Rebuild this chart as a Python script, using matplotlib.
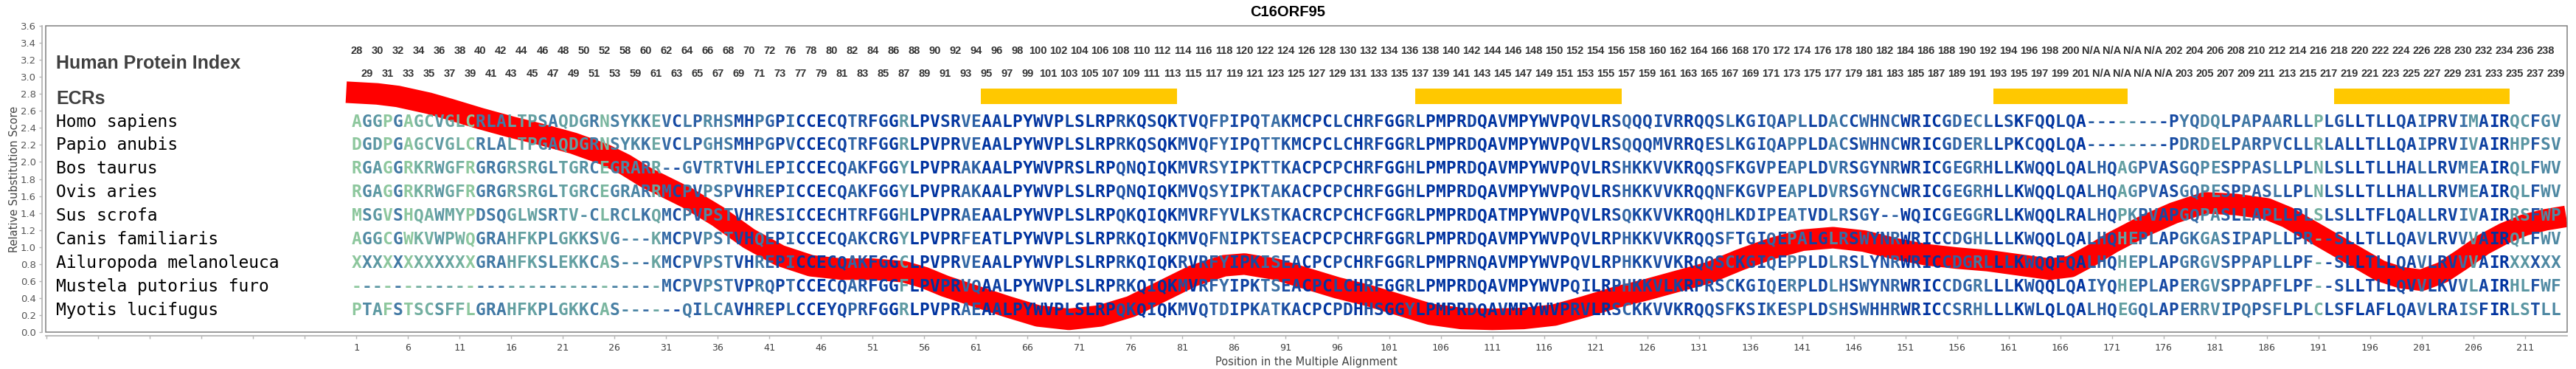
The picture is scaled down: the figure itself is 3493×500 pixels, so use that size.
import math
from collections import Counter

import matplotlib
matplotlib.use("Agg")
import matplotlib.pyplot as plt
from matplotlib.colors import LinearSegmentedColormap, Normalize
from matplotlib.patches import Rectangle

title = "C16ORF95"

species = ["Homo sapiens", "Papio anubis", "Bos taurus", "Ovis aries", "Sus scrofa",
           "Canis familiaris", "Ailuropoda melanoleuca", "Mustela putorius furo",
           "Myotis lucifugus"]

# alignment columns 1..214, split in chunks
seqs = [
    "AGGPGAGCVGLCRLALTPSAQDGRNSYKKEV" "CLPRHSMHPGPICCECQTRFGGRLPVSRVEAALPYW"
    "VPLSLRPRKQSQKTVQFPIPQTAKMCPCLCHRFGGRL" "PMPRDQAVMPYWVPQVLRSQQQIVRRQQSLKGIQAPLLDAC"
    "CWHNCWRICGDECLLSKFQQLQA--------PYQD" "QLPAPAARLLPLGLLTLLQAIPRVIMAIRQCFGV",
    "DGDPGAGCVGLCRLALTPGAQDGRNSYKKEV" "CLPGHSMHPGPVCCECQTRFGGRLPVPRVEAALPYW"
    "VPLSLRPRKQSQKMVQFYIPQTTKMCPCLCHRFGGRL" "PMPRDQAVMPYWVPQVLRSQQQMVRRQESLKGIQAPPLDAC"
    "SWHNCWRICGDERLLPKCQQLQA--------PDRD" "ELPARPVCLLRLALLTLLQAIPRVIVAIRHPFSV",
    "RGAGGRKRWGFRGRGRSRGLTGRCEGRARR-" "-GVTRTVHLEPICCECQAKFGGYLPVPRAKAALPYW"
    "VPRSLRPQNQIQKMVRSYIPKTTKACPCPCHRFGGHL" "PMPRDQAVMPYWVPQVLRSHKKVVKRQQSFKGVPEAPLDVR"
    "SGYNRWRICGEGRHLLKWQQLQALHQAGPVASGQP" "ESPPASLLPLNLSLLTLLHALLRVMEAIRQLFWV",
    "RGAGGRKRWGFRGRGRSRGLTGRCEGRARRM" "CPVPSPVHREPICCECQAKFGGYLPVPRAKAALPYW"
    "VPLSLRPQNQIQKMVQSYIPKTAKACPCPCHRFGGHL" "PMPRDQAVMPYWVPQVLRSHKKVVKRQQNFKGVPEAPLDVR"
    "SGYNCWRICGEGRHLLKWQQLQALHQAGPVASGQP" "ESPPASLLPLNLSLLTLLHALLRVMEAIRQLFWV",
    "MSGVSHQAWMYPDSQGLWSRTV-CLRCLKQM" "CPVPSTVHRESICCECHTRFGGHLPVPRAEAALPYW"
    "VPLSLRPQKQIQKMVRFYVLKSTKACRCPCHCFGGRL" "PMPRDQATMPYWVPQVLRSQKKVVKRQQHLKDIPEATVDLR"
    "SGY--WQICGEGGRLLKWQQLRALHQPKPVAPGQP" "ASLLAPLLPLSLSLLTFLQALLRVIVAIRRSFWP",
    "AGGCGWKVWPWQGRAHFKPLGKKSVG---KM" "CPVPSTVHQEPICCECQAKCRGYLPVPRFEATLPYW"
    "VPLSLRPRKQIQKMVQFNIPKTSEACPCPCHRFGGRL" "PMPRDQAVMPYWVPQVLRPHKKVVKRQQSFTGIQEPALGLR"
    "SWYNRWRICCDGHLLLKWQQLQALHQHEPLAPGKG" "ASIPAPLLPR--SLLTLLQAVLRVVVAIRQLFWV",
    "XXXXXXXXXXXXGRAHFKSLEKKCAS---KM" "CPVPSTVHREPICCECQAKFGGCLPVPRVEAALPYW"
    "VPLSLRPRKQIQKRVRFYIPKISEACPCPCHRFGGRL" "PMPRNQAVMPYWVPQVLRPHKKVVKRQQSCKGIQEPPLDLR"
    "SLYNRWRICCDGRLLLKWQQFQALHQHEPLAPGRG" "VSPPAPLLPF--SLLTLLQAVLRVVVAIRXXXXX",
    "------------------------------M" "CPVPSTVPRQPTCCECQARFGGFLPVPRVQAALPYW"
    "VPLSLRPRKQIQKMVRFYIPKTSEACPCLCHRFGGRL" "PMPRDQAVMPYWVPQILRPHKKVLKRPRSCKGIQERPLDLH"
    "SWYNRWRICCDGRLLLKWQQLQAIYQHEPLAPERG" "VSPPAPFLPF--SLLTLLQVVLKVVLAIRHLFWF",
    "PTAFSTSCSFFLGRAHFKPLGKKCAS------" "QILCAVHREPLCCEYQPRFGGRLPVPRAEAALPYW"
    "VPLSLRPQKQIQKMVQTDIPKATKACPCPDHHSGGYL" "PMPRDQAVMPYWVPRVLRSCKKVVKRQQSFKSIKESPLDSH"
    "SWHHRWRICCSRHLLLKWLQLQALHQEGQLAPERR" "VIPQPSFLPLCLSFLAFLQAVLRAISFIRLSTLL",
]

human_index = ([str(i) for i in range(28, 54)] + [str(i) for i in range(58, 74)]
               + [str(i) for i in range(76, 202)] + ["N/A"] * 8
               + [str(i) for i in range(202, 240)])

ecr_start = [62, 104, 160, 193]
ecr_end = [80, 123, 172, 209]

# relative substitution score along the alignment
score_pos = [0, 3, 5, 8, 10, 13, 16, 19, 22, 25, 27, 29, 31, 33, 36, 39, 42, 45, 48, 51,
             54, 56, 58, 61, 64, 67, 70, 73, 76, 79, 82, 85, 87, 90, 93, 96, 99, 102, 105,
             108, 111, 114, 117, 120, 123, 126, 129, 132, 135, 138, 141, 144, 147, 150,
             153, 156, 159, 162, 165, 167, 169, 171, 174, 177, 180, 183, 186, 188, 190,
             192, 194, 197, 199, 201, 203, 205, 207, 209, 211, 213, 215]
score_val = [2.82, 2.80, 2.77, 2.69, 2.62, 2.51, 2.41, 2.32, 2.22, 2.09, 1.97, 1.82, 1.70,
             1.58, 1.36, 1.10, 0.90, 0.78, 0.74, 0.74, 0.71, 0.64, 0.54, 0.42, 0.30, 0.19,
             0.15, 0.19, 0.30, 0.48, 0.66, 0.78, 0.80, 0.74, 0.63, 0.52, 0.43, 0.32, 0.21,
             0.16, 0.15, 0.16, 0.20, 0.30, 0.41, 0.50, 0.60, 0.70, 0.85, 0.98, 1.08, 1.11,
             1.07, 0.98, 0.91, 0.87, 0.84, 0.79, 0.74, 0.77, 0.90, 1.05, 1.24, 1.40, 1.52,
             1.50, 1.45, 1.35, 1.21, 1.07, 0.93, 0.72, 0.64, 0.61, 0.70, 0.86, 1.03, 1.16,
             1.26, 1.32, 1.36]

W, H = 3493, 500
fig = plt.figure(figsize=(W / 100, H / 100), dpi=100)
ax = fig.add_axes([62 / W, 50 / H, (3481 - 62) / W, 415 / H])
ax.set_xlim(-29.1, 215.1)
ax.set_ylim(0, 3.6)

# axes look: framed plot area, offset gray axis lines
for s in ax.spines.values():
    s.set_visible(False)
for s in ("left", "bottom"):
    ax.spines[s].set_visible(True)
    ax.spines[s].set_position(("outward", 3.5))
    ax.spines[s].set_color("#b4b4b4")
    ax.spines[s].set_linewidth(1.3)
ax.add_patch(Rectangle((0, 0), 1, 1, transform=ax.transAxes, fill=False,
                       edgecolor="#808080", lw=1.1, clip_on=False, zorder=10))

yt = [round(0.2 * i, 1) for i in range(19)]
ax.set_yticks(yt)
ax.set_yticklabels([f"{v:.1f}" for v in yt], fontsize=9.5, color="#555555",
                   family="DejaVu Sans")
xt = list(range(-29, 212, 5))
ax.set_xticks(xt)
ax.set_xticklabels([str(v) if v >= 1 else "" for v in xt], fontsize=9.5,
                   color="#444444", family="DejaVu Sans Mono")
ax.tick_params(axis="both", direction="out", length=3, color="#b4b4b4", width=1)
ax.tick_params(axis="x", pad=4)
ax.tick_params(axis="y", pad=3)

# rows
row_y = [2.472 - 0.2767 * i for i in range(len(species))]
idx_y = [3.305, 3.036]
ecr_lo, ecr_hi = 2.68, 2.86

# substitution curve (under the letters)
ax.plot(score_pos, score_val, color="#ff0000", lw=21, solid_capstyle="butt",
        solid_joinstyle="round", zorder=2)

# ECR bars
for a, b in zip(ecr_start, ecr_end):
    ax.add_patch(Rectangle((a - 0.5, ecr_lo), b - a + 1, ecr_hi - ecr_lo,
                           facecolor="#ffc800", edgecolor="none", zorder=2))

# column colour from conservation (entropy)
cmap = LinearSegmentedColormap.from_list(
    "cons", [(0.0, "#0033a0"), (0.35, "#1c4fa4"), (0.55, "#3a6fa5"),
             (0.72, "#5490a3"), (0.86, "#6eaaa0"), (1.0, "#8ec89d")])
norm = Normalize(0, 1.9, clip=True)
ncol = max(len(s) for s in seqs)
col_colors = []
for c in range(ncol):
    chars = [s[c] for s in seqs if c < len(s)]
    cnt = Counter(chars)
    n = len(chars)
    ent = -sum(k / n * math.log(k / n) for k in cnt.values())
    col_colors.append(cmap(norm(ent)))

for i, s in enumerate(seqs):
    for c, ch in enumerate(s):
        ax.text(c + 1, row_y[i], ch, ha="center", va="center", fontsize=16.5,
                family="DejaVu Sans Mono", fontweight="bold", color=col_colors[c],
                zorder=4)
    ax.text(-28.07, row_y[i], species[i], ha="left", va="center", fontsize=16.5,
            family="DejaVu Sans Mono", color="black", zorder=4)

for k, lab in enumerate(human_index):
    ax.text(k + 1, idx_y[k % 2], lab, ha="center", va="center", fontsize=10.5,
            family="Liberation Sans", fontweight="bold", color="#333333", zorder=4)

ax.text(-28.07, 3.16, "Human Protein Index", ha="left", va="center", fontsize=18,
        family="Liberation Sans", fontweight="bold", color="#404040")
ax.text(-28.07, 2.74, "ECRs", ha="left", va="center", fontsize=18,
        family="Liberation Sans", fontweight="bold", color="#404040")

fig.text(1746 / W, 1 - 16 / H, title, ha="center", va="center", fontsize=14.5,
         fontweight="bold", family="Liberation Sans", color="black")
fig.text(1771 / W, 1 - 490 / H, "Position in the Multiple Alignment", ha="center",
         va="center", fontsize=10.5, family="DejaVu Sans", color="#444444")
fig.text(20 / W, 1 - 243 / H, "Relative Substitution Score", ha="center", va="center",
         rotation=90, fontsize=10.5, family="DejaVu Sans", color="#444444")

fig.savefig("out.png", dpi=100)
